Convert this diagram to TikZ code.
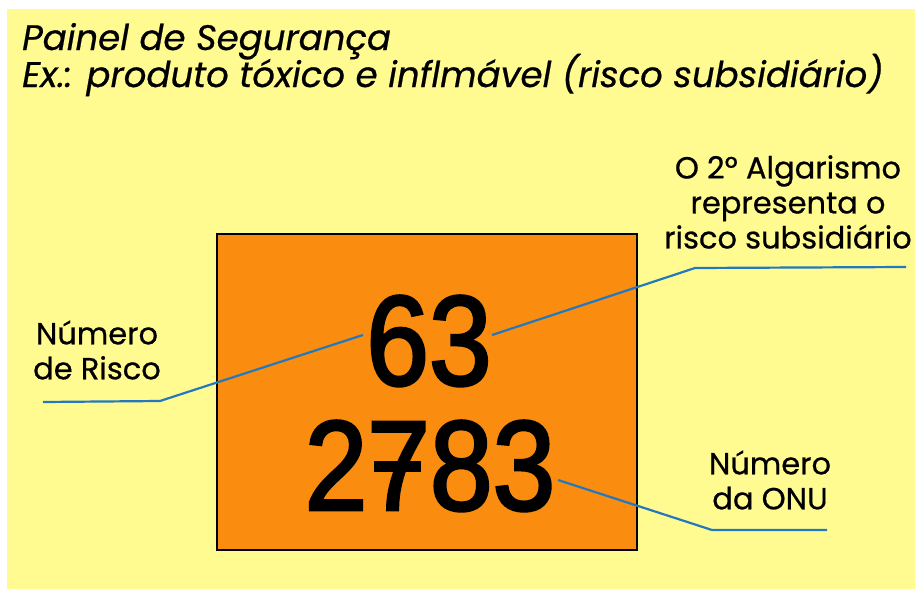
\documentclass[tikz,border=0pt]{standalone}
\usepackage{fontspec}
\setmainfont{Poppins}[FakeBold=0.6]
\newfontfamily\platefont[FakeStretch=0.88,FakeBold=2.2]{Liberation Sans}
\definecolor{painelbg}{RGB}{255,251,145}
\definecolor{painelorange}{RGB}{250,140,15}
\definecolor{leaderblue}{RGB}{35,120,190}
\tikzset{
	label/.style={align=center, inner sep=0pt, font=\fontsize{30.5}{35}\selectfont},
	titletext/.style={anchor=base west, inner sep=0pt, font=\fontsize{35.5}{36}\selectfont\itshape},
	platenum/.style={anchor=base, inner sep=0pt, font=\fontsize{128}{128}\platefont},
	leader/.style={leaderblue, line width=2.2pt}
}
\begin{document}
\begin{tikzpicture}[x=1pt,y=-1pt]
	\useasboundingbox (0,0) rectangle (915,589);
	\fill[painelbg] (7,9) rectangle (915,589);
	\draw (22,50) node[titletext] (t1) {Painel de Segurança};
	\draw (22,87) node[titletext] (t2) {Ex.: produto tóxico e inflmável (risco subsidiário)};
	\draw[fill=painelorange, line width=2.4pt] (217,234) rectangle (637,550);
	\draw (429,385) node[platenum] (risk) {63};
	\draw (430,510) node[platenum] (onu) {2783};
	\fill (374,461) rectangle (421,472);
	\draw (97,350) node[label] (riskl) {Número\\de Risco};
	\draw (788,202) node[label] (secl) {O 2º Algarismo\\representa o\\risco subsidiário};
	\draw (770,480) node[label] (onul) {Número\\da ONU};
	\coordinate (a1) at (43,402);
	\coordinate (a2) at (160,401);
	\coordinate (a3) at (363,335);
	\coordinate (b1) at (492,335);
	\coordinate (b2) at (695,268);
	\coordinate (b3) at (906,267);
	\coordinate (c1) at (558,480);
	\coordinate (c2) at (712,530);
	\coordinate (c3) at (827,530);
	\draw[leader] (a1) -- (a2) -- (a3);
	\draw[leader] (b1) -- (b2) -- (b3);
	\draw[leader] (c1) -- (c2) -- (c3);
\end{tikzpicture}
\end{document}
